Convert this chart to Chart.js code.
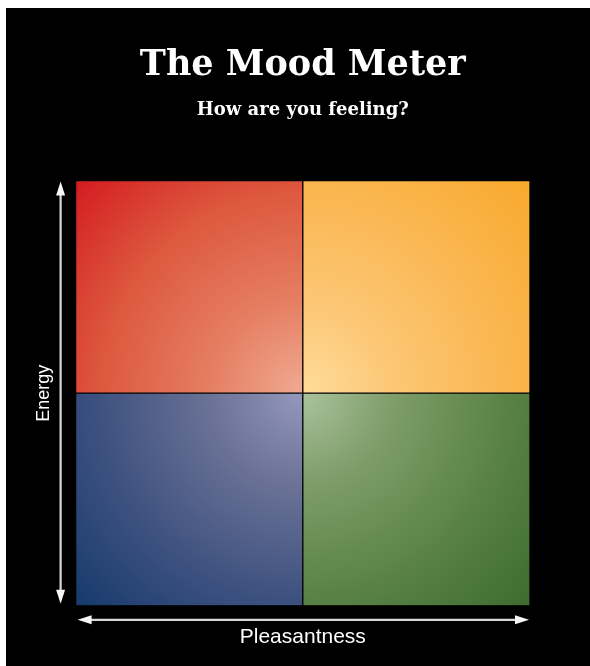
<!DOCTYPE html>
<html>
<head>
<meta charset="utf-8">
<script src="https://cdn.jsdelivr.net/npm/chart.js@4/dist/chart.umd.min.js"></script>
<style>
  html, body { margin: 0; padding: 0; background: #ffffff; width: 590px; height: 666px; overflow: hidden; }
  #frame { position: absolute; left: 6px; top: 8px; width: 584px; height: 658px; background: #000000; }
  canvas { display: block; }
</style>
</head>
<body>
<div id="frame"><canvas id="c" width="584" height="658"></canvas></div>
<script>
// ---- data ----
const pleasantness = ['Unpleasant', 'Pleasant'];     // x categories
const lowEnergy = [1, 1];                             // bottom row of the meter
const highEnergy = [1, 1];                            // top row of the meter
const titleText = 'The Mood Meter';
const subtitleText = 'How are you feeling?';
const xAxisLabel = 'Pleasantness';
const yAxisLabel = 'Energy';

// ---- styles (gradient stops: centre -> outer corner) ----
const stopsHigh = [
  [[0.0, '#f0aa92'], [0.3, '#e57e62'], [0.65, '#dd583e'], [1.0, '#d41b20']],   // unpleasant / high energy (red)
  [[0.0, '#ffdc9a'], [0.3, '#fcc674'], [0.65, '#fab650'], [1.0, '#f8a92c']]    // pleasant / high energy (yellow)
];
const stopsLow = [
  [[0.0, '#9498bc'], [0.3, '#6a7296'], [0.65, '#3f5280'], [1.0, '#153a6c']],   // unpleasant / low energy (blue)
  [[0.0, '#abc29c'], [0.3, '#7c9c68'], [0.65, '#5a8246'], [1.0, '#3c6c2e']]    // pleasant / low energy (green)
];

function quadrantFill(stops) {
  return (ctx) => {
    const chart = ctx.chart;
    const area = chart.chartArea;
    const s = stops[ctx.dataIndex];
    if (!area) return s[2][1];
    const cx = (area.left + area.right) / 2;
    const cy = (area.top + area.bottom) / 2;
    const r = Math.hypot((area.right - area.left) / 2, (area.bottom - area.top) / 2);
    const g = chart.ctx.createRadialGradient(cx, cy, 0, cx, cy, r);
    s.forEach(([o, c]) => g.addColorStop(o, c));
    return g;
  };
}

const arrowPlugin = {
  id: 'arrows',
  afterDraw(chart) {
    const { ctx, chartArea: a } = chart;
    ctx.save();
    ctx.strokeStyle = '#d8d8d8';
    ctx.fillStyle = '#f6f6f6';
    ctx.lineWidth = 2.2;
    const head = (x, y, dx, dy) => {
      const len = 14, w = 4.5;
      const px = -dy, py = dx;
      ctx.beginPath();
      ctx.moveTo(x, y);
      ctx.lineTo(x - dx * len + px * w, y - dy * len + py * w);
      ctx.lineTo(x - dx * len - px * w, y - dy * len - py * w);
      ctx.closePath();
      ctx.fill();
    };
    // vertical (Energy)
    const vx = a.left - 15;
    const vt = a.top + 1, vb = a.bottom - 2;
    ctx.beginPath(); ctx.moveTo(vx, vt + 10); ctx.lineTo(vx, vb - 10); ctx.stroke();
    head(vx, vt, 0, -1); head(vx, vb, 0, 1);
    // horizontal (Pleasantness)
    const hy = a.bottom + 14;
    const hl = a.left + 2, hr = a.right - 1;
    ctx.beginPath(); ctx.moveTo(hl + 10, hy); ctx.lineTo(hr - 10, hy); ctx.stroke();
    head(hl, hy, -1, 0); head(hr, hy, 1, 0);
    ctx.restore();
  }
};

new Chart(document.getElementById('c'), {
  type: 'bar',
  data: {
    labels: pleasantness,
    datasets: [
      { label: 'Low energy', data: lowEnergy, backgroundColor: quadrantFill(stopsLow),
        borderColor: 'rgba(0,0,0,0.12)', borderWidth: 1, borderSkipped: false },
      { label: 'High energy', data: highEnergy, backgroundColor: quadrantFill(stopsHigh),
        borderColor: 'rgba(0,0,0,0.12)', borderWidth: 1, borderSkipped: false }
    ]
  },
  options: {
    responsive: false,
    animation: false,
    events: [],
    categoryPercentage: 1.0,
    barPercentage: 1.0,
    layout: { padding: { left: 0, right: 60, top: 0, bottom: 12 } },
    plugins: {
      legend: { display: false },
      tooltip: { enabled: false },
      title: {
        display: true, fullSize: false, text: titleText, color: '#ffffff',
        font: { family: '"DejaVu Serif", serif', size: 35, weight: 'bold', lineHeight: 1.2 },
        padding: { top: 37, bottom: 0 }
      },
      subtitle: {
        display: true, fullSize: false, text: subtitleText, color: '#ffffff',
        font: { family: '"DejaVu Serif", serif', size: 18, weight: 'bold', lineHeight: 1.2 },
        padding: { top: 13, bottom: 59 }
      }
    },
    scales: {
      x: {
        stacked: true,
        grid: { display: false }, border: { display: false },
        ticks: { display: false },
        title: { display: true, text: xAxisLabel, color: '#ffffff',
          font: { family: '"Liberation Sans", Arial, sans-serif', size: 21 },
          padding: { top: 11, bottom: 4 } }
      },
      y: {
        stacked: true, min: 0, max: 2,
        grid: { display: false }, border: { display: false },
        ticks: { display: false },
        title: { display: true, text: yAxisLabel, color: '#ffffff',
          font: { family: '"Liberation Sans", Arial, sans-serif', size: 18 },
          padding: { top: 27, bottom: 13 } }
      }
    }
  },
  plugins: [arrowPlugin]
});
</script>
</body>
</html>
